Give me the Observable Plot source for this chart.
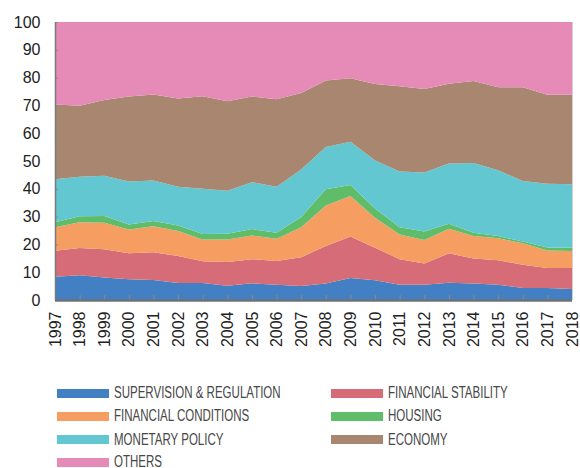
<!DOCTYPE html>
<html>
<head>
<meta charset="utf-8">
<script src="https://cdn.jsdelivr.net/npm/d3@7"></script>
<script src="https://cdn.jsdelivr.net/npm/@observablehq/plot@0.6"></script>
<style>
  html, body { margin: 0; padding: 0; background: #fff; }
  #wrap { position: relative; width: 580px; height: 468px; overflow: hidden; }
  #chart { position: absolute; left: 0; top: 0; }
  .leg { position: absolute; font-family: "Liberation Sans Narrow", "Liberation Sans", Arial, sans-serif; font-size: 16px; color: #474747; white-space: nowrap; line-height: 1; transform: scaleX(0.72); transform-origin: 0 50%; }
  .sw { position: absolute; width: 52px; height: 9px; }
</style>
</head>
<body>
<div id="wrap"><div id="chart"></div></div>
<script>
const years = [1997,1998,1999,2000,2001,2002,2003,2004,2005,2006,2007,2008,2009,2010,2011,2012,2013,2014,2015,2016,2017,2018];
const seriesNames = ["SUPERVISION & REGULATION","FINANCIAL STABILITY","FINANCIAL CONDITIONS","HOUSING","MONETARY POLICY","ECONOMY","OTHERS"];
const seriesColors = ["#4280c3","#d76c79","#f69d61","#5fbd6a","#62c7d0","#a9866f","#e68ab8"];
const supervision = [8.4,8.9,8.1,7.5,7.2,6.1,6.1,5.1,6.0,5.5,5.0,5.9,7.9,7.1,5.5,5.5,6.2,5.9,5.5,4.3,4.3,4.0];
const financialStability = [9.3,9.8,10.2,9.3,10.0,9.7,7.8,8.6,8.7,8.5,10.4,13.5,14.9,11.7,9.2,7.6,10.6,9.0,8.8,8.4,7.2,7.5];
const financialConditions = [8.5,9.3,9.5,8.6,9.3,9.0,7.9,8.1,8.5,8.0,10.8,14.6,14.6,10.8,8.9,8.5,8.8,8.1,7.9,7.7,6.3,6.1];
const housing = [1.8,2.1,2.4,1.8,1.9,2.0,1.9,2.0,2.3,2.2,3.7,5.8,4.0,3.3,2.6,3.0,1.8,1.2,0.8,0.6,1.1,1.2];
const monetaryPolicy = [15.4,14.2,14.5,15.4,14.6,13.9,16.3,15.5,16.9,16.5,17.0,15.2,15.5,17.3,20.0,21.3,21.7,25.1,23.7,21.8,22.9,22.8];
const economy = [26.9,25.6,27.2,30.6,30.9,31.8,33.3,32.2,30.8,31.5,27.6,24.0,22.9,27.5,30.7,30.0,28.7,29.5,29.8,33.7,32.0,32.2];
const others = [29.7,30.1,28.1,26.8,26.1,27.5,26.7,28.5,26.8,27.8,25.5,21.0,20.2,22.3,23.1,24.1,22.2,21.2,23.5,23.5,26.2,26.2];
const yTicks = [0,10,20,30,40,50,60,70,80,90,100];

const seriesValues = [supervision, financialStability, financialConditions, housing, monetaryPolicy, economy, others];
const data = [];
years.forEach((yr, i) => {
  seriesNames.forEach((s, k) => data.push({year: yr, series: s, value: seriesValues[k][i]}));
});

const chart = Plot.plot({
  width: 580,
  height: 360,
  marginLeft: 55,
  marginRight: 8,
  marginTop: 22,
  marginBottom: 60,
  style: {fontFamily: "'Liberation Sans', Arial, sans-serif", color: "#222", background: "transparent"},
  x: {domain: [1997, 2018]},
  y: {domain: [0, 100]},
  color: {domain: seriesNames, range: seriesColors},
  marks: [
    Plot.areaY(data, {x: "year", y: "value", fill: "series", order: seriesNames}),
    Plot.ruleX(years, {y1: 0, y2: 1.8, stroke: "#8a8a8a"}),
    Plot.ruleY(yTicks, {x1: 1997, x2: 1997.12, stroke: "#8a8a8a"}),
    Plot.ruleX([2018], {stroke: "#d0d0d0"}),
    Plot.ruleX([1997], {stroke: "#7a7a7a", strokeWidth: 1.5}),
    Plot.ruleY([0], {stroke: "#6f7173", strokeWidth: 2.5}),
    Plot.axisY({ticks: yTicks, tickSize: 0, tickPadding: 15, fontSize: 16, label: null, fill: "#222"}),
    Plot.axisX({ticks: years, tickSize: 0, tickRotate: -90, tickPadding: 11, fontSize: 16, label: null, fill: "#222", tickFormat: d => String(d)})
  ]
});
document.getElementById("chart").appendChild(chart);

const wrap = document.getElementById("wrap");
const rowY = [393, 416.3, 439.6, 462];
const colSwX = [57, 331];
const colTxX = [114, 388];
seriesNames.forEach((s, k) => {
  const r = Math.floor(k / 2), c = k % 2;
  const sw = document.createElement("div");
  sw.className = "sw";
  sw.style.left = colSwX[c] + "px";
  sw.style.top = (rowY[r] - 4.5) + "px";
  sw.style.background = seriesColors[k];
  wrap.appendChild(sw);
  const t = document.createElement("div");
  t.className = "leg";
  t.textContent = s;
  t.style.left = colTxX[c] + "px";
  t.style.top = (rowY[r] - 8) + "px";
  wrap.appendChild(t);
});
</script>
</body>
</html>
